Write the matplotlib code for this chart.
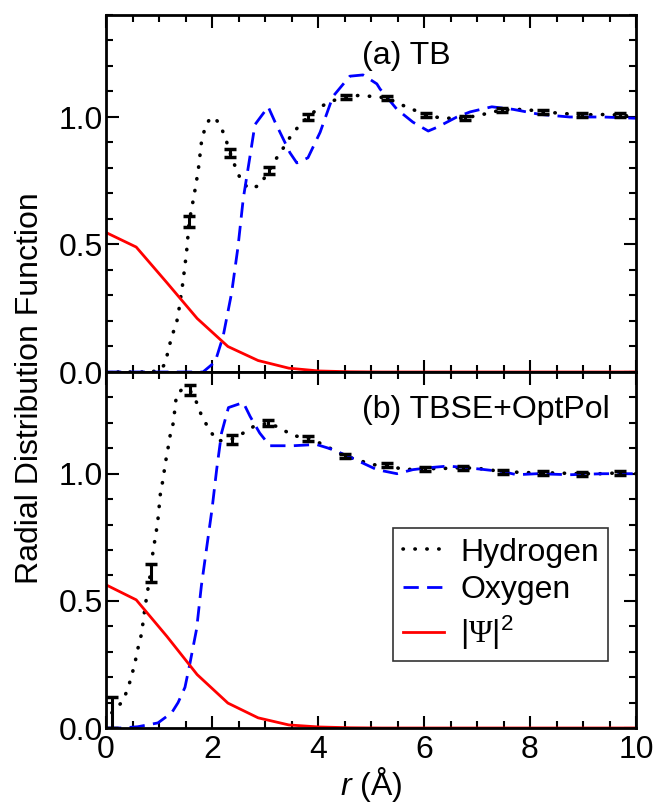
import matplotlib
matplotlib.use("Agg")
import matplotlib.pyplot as plt
import numpy as np

plt.rcParams['font.family'] = ['Liberation Sans', 'DejaVu Sans']
plt.rcParams['mathtext.fontset'] = 'custom'
plt.rcParams['mathtext.rm'] = 'Liberation Serif'
plt.rcParams['mathtext.it'] = 'Liberation Sans:italic'
plt.rcParams['mathtext.sf'] = 'Liberation Sans'

# ---------------- Panel (a) TB ----------------
rH_a = [0.0, 0.8, 1.0, 1.11, 1.17, 1.24, 1.33, 1.38, 1.45, 1.52, 1.57, 1.66, 1.74, 1.80, 1.87, 1.95,
        2.04, 2.15, 2.25, 2.34, 2.43, 2.53, 2.68, 2.89, 3.08, 3.19, 3.32, 3.47, 3.62, 3.81, 4.04,
        4.3, 4.51, 4.8, 5.04, 5.3, 5.55, 6.04, 6.34, 6.77, 7.11, 7.47, 7.9, 8.25, 8.98, 9.3, 9.7, 10.0]
gH_a = [0.0, 0.0, 0.005, 0.03, 0.08, 0.14, 0.19, 0.25, 0.35, 0.47, 0.59, 0.69, 0.79, 0.90, 0.96, 0.99,
        1.00, 0.97, 0.92, 0.86, 0.81, 0.76, 0.72, 0.73, 0.79, 0.83, 0.87, 0.92, 0.96, 1.00, 1.04,
        1.065, 1.08, 1.085, 1.08, 1.075, 1.05, 1.008, 0.995, 0.996, 1.01, 1.028, 1.03, 1.02, 1.008, 1.01, 1.008, 1.0]
rHerr_a = [1.57, 2.34, 3.08, 3.81, 4.52, 5.3, 6.04, 6.77, 7.47, 8.25, 8.98, 9.7]
gHerr_a = [0.59, 0.86, 0.79, 1.00, 1.08, 1.075, 1.008, 0.996, 1.028, 1.02, 1.008, 1.008]
eH_a = [0.022, 0.016, 0.012, 0.01, 0.008, 0.008, 0.008, 0.008, 0.008, 0.008, 0.008, 0.008]

rO_a = [0.0, 1.83, 2.06, 2.21, 2.37, 2.49, 2.59, 2.72, 2.81, 3.06, 3.19, 3.47, 3.60, 3.81, 4.04, 4.28,
        4.60, 4.85, 5.11, 5.17, 5.49, 5.79, 6.08, 6.25, 6.62, 6.87, 7.28, 7.68, 8.19, 8.75, 9.38, 10.0]
gO_a = [0.0, 0.0, 0.04, 0.14, 0.31, 0.49, 0.68, 0.85, 0.97, 1.04, 0.98, 0.86, 0.82, 0.84, 0.94, 1.08,
        1.16, 1.165, 1.13, 1.11, 1.03, 0.98, 0.945, 0.96, 1.0, 1.02, 1.04, 1.03, 1.01, 1.0, 1.0, 0.995]

rP_a = [0.0, 0.57, 1.15, 1.72, 2.30, 2.87, 3.45, 4.02, 4.6, 5.2, 10.0]
gP_a = [0.547, 0.49, 0.35, 0.21, 0.10, 0.045, 0.015, 0.004, 0.001, 0.0, 0.0]

# ---------------- Panel (b) TBSE+OptPol ----------------
rH_b = [0.11, 0.32, 0.42, 0.49, 0.55, 0.61, 0.67, 0.74, 0.84, 0.89, 0.94, 0.98, 1.03, 1.08, 1.11, 1.17,
        1.21, 1.27, 1.33, 1.45, 1.58, 1.71, 1.80, 1.93, 2.09, 2.2, 2.37, 2.59, 2.78, 3.06, 3.28, 3.53,
        3.81, 4.04, 4.51, 5.04, 5.3, 5.61, 6.02, 6.30, 6.74, 7.06, 7.49, 8.0, 8.25, 8.98, 9.4, 9.7, 10.0]
gH_b = [0.06, 0.106, 0.16, 0.21, 0.26, 0.32, 0.37, 0.48, 0.61, 0.70, 0.76, 0.82, 0.93, 0.98, 1.03, 1.10,
        1.15, 1.20, 1.31, 1.335, 1.33, 1.28, 1.23, 1.18, 1.13, 1.13, 1.135, 1.16, 1.185, 1.20, 1.18, 1.15,
        1.14, 1.12, 1.07, 1.035, 1.035, 1.016, 1.02, 1.02, 1.024, 1.02, 1.008, 1.004, 1.004, 1.0, 1.0, 1.004, 1.0]
rHerr_b = [0.11, 0.84, 1.58, 2.37, 3.06, 3.81, 4.51, 5.3, 6.02, 6.74, 7.49, 8.25, 8.98, 9.7]
gHerr_b = [0.06, 0.61, 1.33, 1.135, 1.20, 1.14, 1.07, 1.035, 1.02, 1.024, 1.008, 1.004, 1.0, 1.004]
eH_b = [0.06, 0.035, 0.02, 0.018, 0.012, 0.01, 0.008, 0.008, 0.008, 0.008, 0.008, 0.008, 0.008, 0.008]

rO_b = [0.0, 0.3, 0.6, 0.98, 1.24, 1.36, 1.49, 1.58, 1.71, 1.80, 1.90, 2.0, 2.09, 2.18, 2.31, 2.59,
        2.72, 2.9, 3.09, 3.53, 3.97, 4.28, 4.66, 5.11, 5.49, 5.79, 6.11, 6.45, 6.8, 7.15, 7.49, 7.75,
        8.13, 8.75, 9.38, 10.0]
gO_b = [0.0, 0.0, 0.005, 0.02, 0.06, 0.10, 0.16, 0.25, 0.39, 0.56, 0.71, 0.86, 1.02, 1.16, 1.26, 1.28,
        1.225, 1.16, 1.11, 1.11, 1.115, 1.095, 1.06, 1.016, 1.0, 1.016, 1.024, 1.03, 1.024, 1.016, 1.008, 0.996,
        1.0, 0.996, 1.0, 1.0]

rP_b = [0.0, 0.57, 1.15, 1.72, 2.30, 2.87, 3.45, 4.02, 4.6, 5.2, 10.0]
gP_b = [0.563, 0.504, 0.36, 0.21, 0.098, 0.04, 0.012, 0.004, 0.001, 0.0, 0.0]

panel_labels = ["(a) TB", "(b) TBSE+OptPol"]
legend_labels = ["Hydrogen", "Oxygen", r"|$\Psi$|$^{\mathsf{2}}$"]

fig = plt.figure(figsize=(6.55, 8.05), dpi=100)
L, R = 106 / 655, 636 / 655
ax1 = fig.add_axes([L, 1 - 372 / 805, R - L, (372 - 15) / 805])
ax2 = fig.add_axes([L, 1 - 728 / 805, R - L, (728 - 372) / 805], sharex=ax1)

FS = 23
dotted = dict(color='black', lw=2.6, linestyle=(0, (0.1, 3.2)), dash_capstyle='round')
dashed = dict(color='#0000ff', lw=2.0, linestyle=(0, (5.5, 3.0)))
solid = dict(color='#ff0000', lw=2.0)
errkw = dict(fmt='none', ecolor='black', elinewidth=2.2, capsize=4, capthick=2.5, zorder=5)

datasets = [
    (ax1, rH_a, gH_a, rHerr_a, gHerr_a, eH_a, rO_a, gO_a, rP_a, gP_a),
    (ax2, rH_b, gH_b, rHerr_b, gHerr_b, eH_b, rO_b, gO_b, rP_b, gP_b),
]
for i, (ax, rh, gh, rhe, ghe, eh, ro, go, rp, gp) in enumerate(datasets):
    lh, = ax.plot(rh, gh, **dotted, label=legend_labels[0])
    ax.errorbar(rhe, ghe, yerr=eh, **errkw)
    lo, = ax.plot(ro, go, **dashed, label=legend_labels[1])
    lp, = ax.plot(rp, gp, **solid, label=legend_labels[2])
    ax.set_xlim(0, 10)
    ax.set_ylim(0, 1.4)
    ax.set_yticks([0.0, 0.5, 1.0])
    ax.set_yticklabels(["0.0", "0.5", "1.0"])
    ax.set_yticks(np.arange(0, 1.41, 0.1), minor=True)
    ax.set_xticks([0, 2, 4, 6, 8, 10])
    ax.set_xticks(np.arange(0, 10.01, 0.5), minor=True)
    ax.tick_params(which='both', direction='in', top=True, right=True, width=1.5, labelsize=FS)
    ax.tick_params(which='major', length=9)
    ax.tick_params(which='minor', length=5)
    ax.tick_params(axis='y', pad=2)
    ax.tick_params(axis='x', pad=5)
    for s in ax.spines.values():
        s.set_linewidth(2)
    ax.text(0.483, 0.885 if i == 0 else 0.893, panel_labels[i], transform=ax.transAxes,
            fontsize=FS, ha='left', va='center')
    if i == 1:
        leg = ax.legend(loc='upper left', bbox_to_anchor=(0.5415, 0.562), borderaxespad=0,
                        fontsize=FS, frameon=True, fancybox=False, edgecolor='black',
                        handlelength=1.3, handletextpad=0.5, borderpad=0.3, labelspacing=0.25)
        leg.get_frame().set_linewidth(1.2)

plt.setp(ax1.get_xticklabels(), visible=False)
ax2.set_xlabel(r"$r$ (Å)", fontsize=FS, labelpad=0)
fig.text(30 / 655, 1 - 388 / 805, "Radial Distribution Function", rotation=90,
         ha='center', va='center', fontsize=FS)

fig.savefig("out.png", dpi=100)
